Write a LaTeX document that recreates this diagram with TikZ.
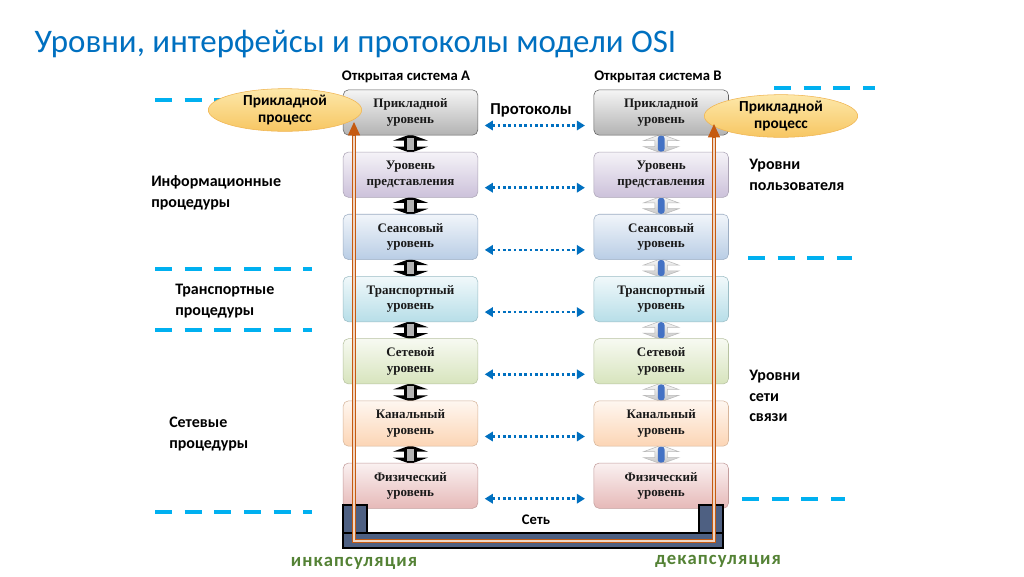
\documentclass[tikz,border=0pt]{standalone}
\usepackage{fontspec}
\setmainfont{Carlito}
\newfontfamily\layerfont{Liberation Serif}
\newfontfamily\spacedfont[LetterSpace=6]{Carlito}
\usetikzlibrary{shapes.geometric, shapes.arrows, positioning, arrows.meta, calc, backgrounds}

\definecolor{titleblue}{RGB}{0,112,192}
\definecolor{protoblue}{RGB}{0,112,192}
\definecolor{dashblue}{RGB}{0,176,240}
\definecolor{netblue}{RGB}{78,96,130}
\definecolor{encorange}{RGB}{197,90,17}
\definecolor{encgreen}{RGB}{84,130,53}
\definecolor{proctop}{RGB}{253,232,170}
\definecolor{procbot}{RGB}{247,198,98}
\definecolor{procline}{RGB}{240,180,80}
\definecolor{rodblue}{RGB}{68,114,196}
\definecolor{presfill}{RGB}{204,193,218}
\definecolor{sessfill}{RGB}{185,205,229}
\definecolor{transfill}{RGB}{183,222,232}
\definecolor{netfill}{RGB}{215,228,189}
\definecolor{linkfill}{RGB}{252,213,181}
\definecolor{physfill}{RGB}{230,185,184}

\tikzset{
  layer/.style={draw, rounded corners=4pt, minimum width=101pt, minimum height=34pt,
    align=center, inner sep=1pt, text=black!90,
    font=\layerfont\bfseries\fontsize{9.75}{11.5}\selectfont},
  applayer/.style={top color=gray!8, bottom color=gray!60, draw=gray!75!black},
  preslayer/.style={top color=presfill!20, bottom color=presfill, draw=presfill!80!black!90},
  sesslayer/.style={top color=sessfill!20, bottom color=sessfill, draw=sessfill!85!black},
  translayer/.style={top color=transfill!20, bottom color=transfill, draw=transfill!85!black},
  netlayer/.style={top color=netfill!20, bottom color=netfill, draw=netfill!85!black},
  linklayer/.style={top color=linkfill!20, bottom color=linkfill, draw=linkfill!85!black},
  physlayer/.style={top color=physfill!20, bottom color=physfill, draw=physfill!85!black},
  process/.style={ellipse, draw=procline, top color=proctop, bottom color=procbot,
    minimum width=115pt, minimum height=32pt, inner sep=0pt, align=center,
    font=\bfseries\fontsize{11.5}{12.5}\selectfont},
  sidetext/.style={align=left, anchor=west, inner sep=0pt,
    font=\bfseries\fontsize{12}{15.4}\selectfont},
  systext/.style={font=\bfseries\fontsize{11}{13}\selectfont},
  proto/.style={draw=protoblue, line width=2pt, dash pattern=on 2pt off 2pt,
    {Triangle[length=6pt,width=7pt]}-{Triangle[length=6pt,width=7pt]},
    shorten <=5pt, shorten >=6.5pt},
  levelline/.style={dashblue, line width=3pt, dash pattern=on 12.75pt off 9.5pt},
  netbar/.style={draw=black, fill=netblue, line width=0.8pt},
  encline/.style={draw=encorange, line width=0.8pt, double=encorange!25, double distance=2pt},
  enctip/.style={encorange, line width=0.8pt, -{Triangle[length=10pt,width=9pt]}},
  updownA/.style={double arrow, shape border rotate=90, fill=black, inner xsep=4.5pt,
    inner ysep=1.5pt, minimum height=14pt, double arrow head extend=8.5pt,
    double arrow tip angle=140},
  rodA/.style={fill=gray!60, minimum width=5.5pt, minimum height=9pt, inner sep=0pt},
  updownB/.style={double arrow, shape border rotate=90, top color=gray!5, bottom color=gray!45,
    draw=gray!55, inner xsep=4.5pt, inner ysep=1.5pt, minimum height=14pt,
    double arrow head extend=8.5pt, double arrow tip angle=140},
  rodB/.style={fill=rodblue, rounded corners=2pt, minimum width=5pt, minimum height=12pt, inner sep=0pt},
  caps/.style={encgreen, font=\spacedfont\bfseries\fontsize{14}{16}\selectfont},
}

\begin{document}
\begin{tikzpicture}[x=0.75pt, y=-0.75pt, node distance=46.65pt]
  \begin{scope}[on background layer]
    \fill[white] (0,0) rectangle (1024,576);
  \end{scope}
  \useasboundingbox (0,0) rectangle (1024,576);

  \node[anchor=west, titleblue, font=\fontsize{24.7}{30}\selectfont] (title) at (30,44)
    {Уровни, интерфейсы и протоколы модели OSI};

  % system A
  \node[systext] (sysA) at (406,77) {Открытая система А};
  \node[layer, applayer] (a1) at (410.5,112.5) {Прикладной\\уровень};
  \node[layer, preslayer, below of=a1] (a2) {Уровень\\представления};
  \node[layer, sesslayer, below of=a2] (a3) {Сеансовый\\уровень};
  \node[layer, translayer, below of=a3] (a4) {Транспортный\\уровень};
  \node[layer, netlayer, below of=a4] (a5) {Сетевой\\уровень};
  \node[layer, linklayer, below of=a5] (a6) {Канальный\\уровень};
  \node[layer, physlayer, below of=a6] (a7) {Физический\\уровень};

  % system B
  \node[systext] (sysB) at (658,77) {Открытая система В};
  \node[layer, applayer, right of=a1, node distance=188pt] (b1) {Прикладной\\уровень};
  \node[layer, preslayer, below of=b1] (b2) {Уровень\\представления};
  \node[layer, sesslayer, below of=b2] (b3) {Сеансовый\\уровень};
  \node[layer, translayer, below of=b3] (b4) {Транспортный\\уровень};
  \node[layer, netlayer, below of=b4] (b5) {Сетевой\\уровень};
  \node[layer, linklayer, below of=b5] (b6) {Канальный\\уровень};
  \node[layer, physlayer, below of=b6] (b7) {Физический\\уровень};

  % interfaces
  \begin{scope}[on background layer]
    \foreach \i/\j in {1/2,2/3,3/4,4/5,5/6,6/7} {
      \node[updownA] (ua\i) at ($(a\i.south)!0.5!(a\j.north)$) {};
      \node[rodA] (ra\i) at (ua\i) {};
      \node[updownB] (ub\i) at ($(b\i.south)!0.5!(b\j.north)$) {};
      \node[rodB] (rb\i) at (ub\i) {};
    }
  \end{scope}

  % protocols
  \node[font=\bfseries\fontsize{12.5}{14}\selectfont] (proto) at (531,110) {Протоколы};
  \foreach \i in {1,...,7}
    \draw[proto] ([yshift=-9.75pt]a\i.east) -- ([yshift=-9.75pt]b\i.west);

  % level lines
  \draw[levelline] (155,100) -- (312,100);
  \draw[levelline] (155,269) -- (312,269);
  \draw[levelline] (155,330) -- (312,330);
  \draw[levelline] (155,512) -- (312,512);
  \draw[levelline] (774,88) -- (875,88);
  \draw[levelline] (748,258) -- (852,258);
  \draw[levelline] (742,499) -- (845,499);

  \node[sidetext] (info) at (151,193) {Информационные\\процедуры};
  \node[sidetext] (trans) at (175,301) {Транспортные\\процедуры};
  \node[sidetext] (netp) at (169,434) {Сетевые\\процедуры};
  \node[sidetext] (user) at (749,175) {Уровни\\пользователя};
  \node[sidetext] (comm) at (749,396) {Уровни\\сети\\связи};

  % processes
  \node[process] (procA) at (285,110) {Прикладной\\процесс};
  \node[process] (procB) at (781,116) {Прикладной\\процесс};

  % network
  \draw[netbar] (343,533) rectangle (723,548);
  \draw[netbar] (343,505) rectangle (367,533);
  \draw[netbar] (699,505) rectangle (723,533);
  \node[font=\bfseries\fontsize{11}{13}\selectfont] (net) at (536,520) {Сеть};

  % encapsulation path
  \coordinate (encA) at (354,122);
  \coordinate (encB) at (714,124);
  \draw[encline] ($(encA)+(0,10)$) -- ++(0,409) -| ($(encB)+(0,10)$);
  \draw[enctip] ($(encA)+(0,14)$) -- (encA);
  \draw[enctip] ($(encB)+(0,14)$) -- (encB);

  \node[caps] (encap) at (354,563) {инкапсуляция};
  \node[caps] (decap) at (718,561) {декапсуляция};
\end{tikzpicture}
\end{document}
